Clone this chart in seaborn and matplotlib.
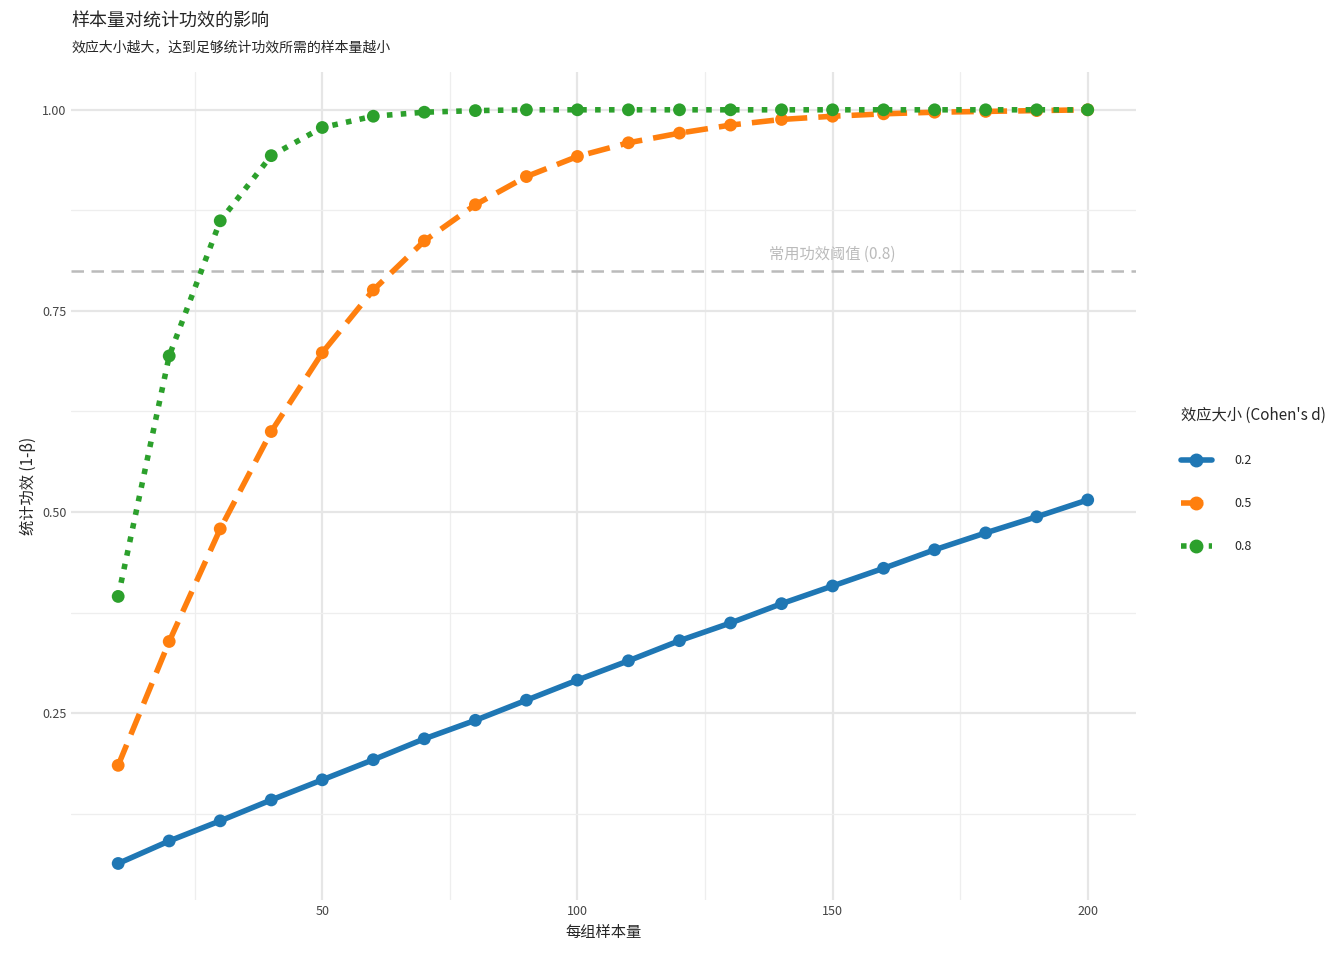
import seaborn as sns
import matplotlib.pyplot as plt
import pandas as pd
from matplotlib.lines import Line2D

sns.set_theme(style='whitegrid')
plt.rcParams['font.family'] = ['Noto Sans CJK SC', 'DejaVu Sans']

n_per_group = list(range(10, 201, 10))
power_d02 = [0.063, 0.091, 0.116, 0.142, 0.167, 0.192, 0.218, 0.241, 0.266, 0.291,
             0.315, 0.340, 0.362, 0.386, 0.408, 0.430, 0.453, 0.474, 0.494, 0.515]
power_d05 = [0.185, 0.339, 0.479, 0.600, 0.698, 0.776, 0.837, 0.882, 0.917, 0.942,
             0.959, 0.971, 0.981, 0.988, 0.992, 0.995, 0.997, 0.998, 0.999, 1.000]
power_d08 = [0.395, 0.694, 0.862, 0.943, 0.978, 0.992, 0.997, 0.999, 1.000, 1.000,
             1.000, 1.000, 1.000, 1.000, 1.000, 1.000, 1.000, 1.000, 1.000, 1.000]
effect_labels = ['0.2', '0.5', '0.8']
colors = ['#1f77b4', '#ff7f0e', '#2ca02c']
dash_styles = ['', (4, 2), (1, 1.5)]

df = pd.DataFrame({
    'n': n_per_group * 3,
    'power': power_d02 + power_d05 + power_d08,
    'd': [lab for lab in effect_labels for _ in n_per_group],
})

fig, ax = plt.subplots(figsize=(13.44, 9.6), dpi=100)
pal = dict(zip(effect_labels, colors))
sns.lineplot(data=df, x='n', y='power', hue='d', style='d', palette=pal,
             dashes=dict(zip(effect_labels, dash_styles)), linewidth=4, ax=ax, legend=False)
sns.scatterplot(data=df, x='n', y='power', hue='d', palette=pal, s=85,
                edgecolor='none', ax=ax, legend=False, zorder=5)

ax.axhline(0.8, color='#bbbbbb', linestyle=(0, (5, 3)), linewidth=1.8, zorder=1)
ax.text(150, 0.82, '常用功效阈值 (0.8)', color='#bbbbbb', fontsize=11, ha='center', va='center')

ax.set_xlim(0.8, 209.4)
ax.set_ylim(0.017, 1.047)
ax.set_xticks([50, 100, 150, 200])
ax.set_xticks([25, 75, 125, 175], minor=True)
ax.set_yticks([0.25, 0.5, 0.75, 1.0])
ax.set_yticklabels(['0.25', '0.50', '0.75', '1.00'])
ax.set_yticks([0.125, 0.375, 0.625, 0.875], minor=True)
ax.grid(which='major', color='#e6e6e6', linewidth=1.6)
ax.grid(which='minor', color='#eeeeee', linewidth=0.9)
ax.tick_params(labelsize=9, colors='#444444', length=0)
for s in ax.spines.values():
    s.set_visible(False)
ax.set_xlabel('每组样本量', fontsize=11)
ax.set_ylabel('统计功效 (1-β)', fontsize=11)

fig.text(0.053, 0.988, '样本量对统计功效的影响', fontsize=13, va='top')
fig.text(0.053, 0.958, '效应大小越大，达到足够统计功效所需的样本量越小', fontsize=10, va='top')

handles = [Line2D([0], [0], color=c, linestyle='-' if ds == '' else (0, ds), linewidth=4,
                  marker='o', markersize=9) for c, ds in zip(colors, dash_styles)]
leg = fig.legend(handles, effect_labels, title="效应大小 (Cohen's d)", loc='center left',
                 bbox_to_anchor=(0.87, 0.5), frameon=False, fontsize=9, title_fontsize=11,
                 labelspacing=2.4, handlelength=2.5, handletextpad=1.8)
leg._legend_box.align = 'left'

fig.subplots_adjust(left=0.053, right=0.845, top=0.925, bottom=0.062)
fig.savefig('out.png', dpi=100)
